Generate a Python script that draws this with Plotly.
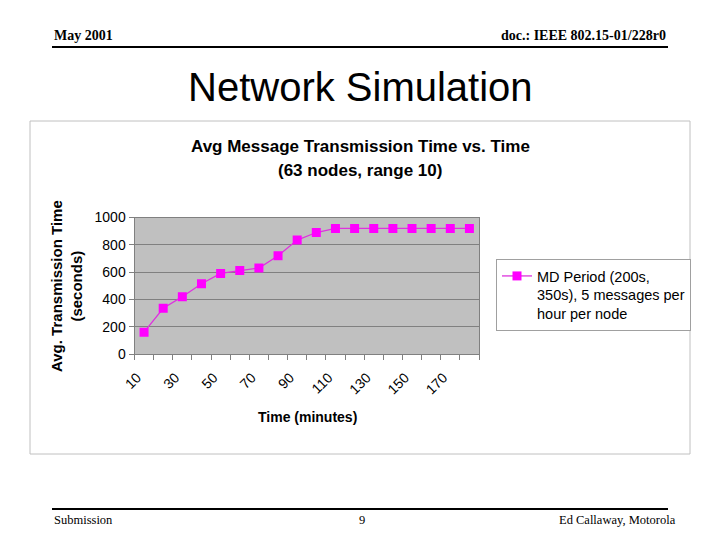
import plotly.graph_objects as go

W, H = 720, 540

minutes = [10, 20, 30, 40, 50, 60, 70, 80, 90, 100, 110, 120, 130, 140, 150, 160, 170, 180]
avg_tx_time = [160, 335, 420, 515, 590, 612, 630, 720, 835, 890, 920, 920, 920, 920, 920, 920, 920, 920]
x_tick_labels = [10, 30, 50, 70, 90, 110, 130, 150, 170]
y_tick_vals = [0, 200, 400, 600, 800, 1000]
series_name = "MD Period (200s,<br>350s), 5 messages per<br>hour per node"


def px(x):
    return x / W


def py(y):
    return 1 - y / H


fig = go.Figure()
fig.add_trace(go.Scatter(
    x=minutes, y=avg_tx_time, mode="lines+markers", name=series_name,
    line=dict(color="#DD33DD", width=1.3),
    marker=dict(symbol="square", size=9, color="#FF00FF"),
))

font_sans = "Liberation Sans, Arial, sans-serif"
font_serif = "Liberation Serif, Times New Roman, serif"

fig.update_layout(
    width=W, height=H,
    margin=dict(l=0, r=0, t=0, b=0, autoexpand=False),
    paper_bgcolor="white",
    plot_bgcolor="#C0C0C0",
    showlegend=True,
    legend=dict(
        x=px(496), y=py(259), xanchor="left", yanchor="top",
        bordercolor="#A0A0A0", borderwidth=1, bgcolor="white",
        font=dict(family=font_sans, size=14.5, color="#000"),
        valign="top",
    ),
    xaxis=dict(
        domain=[px(134.5), px(479)],
        range=[5, 185],
        tickvals=x_tick_labels,
        ticktext=[str(v) for v in x_tick_labels],
        tickangle=-45,
        ticks="",
        ticklabelstandoff=9,
        ticklabelshift=-7,
        showgrid=False,
        zeroline=False,
        automargin=False,
        showline=True, linecolor="#808080", linewidth=1, mirror=True,
        tickfont=dict(family=font_sans, size=14, color="#000"),
        minor=dict(tick0=5, dtick=10, ticks="outside", ticklen=5, tickcolor="#808080", showgrid=False),
        fixedrange=True,
    ),
    yaxis=dict(
        domain=[py(354), py(217.5)],
        range=[0, 1000],
        tickvals=y_tick_vals,
        ticks="outside", ticklen=5, tickcolor="#808080",
        showgrid=True, gridcolor="#808080", gridwidth=1,
        zeroline=False,
        automargin=False,
        showline=True, linecolor="#808080", linewidth=1, mirror=True,
        tickfont=dict(family=font_sans, size=14, color="#000"),
        fixedrange=True,
    ),
    shapes=[
        dict(type="rect", xref="paper", yref="paper", x0=px(30), x1=px(690), y0=py(454), y1=py(121),
             line=dict(color="#C0C0C0", width=1), layer="below"),
        dict(type="line", xref="paper", yref="paper", x0=px(52), x1=px(668), y0=py(47), y1=py(47),
             line=dict(color="black", width=2)),
        dict(type="line", xref="paper", yref="paper", x0=px(52), x1=px(668), y0=py(509), y1=py(509),
             line=dict(color="black", width=2)),
    ],
    annotations=[
        dict(text="<b>May 2001</b>", x=px(52), y=py(45), xref="paper", yref="paper",
             xanchor="left", yanchor="bottom", showarrow=False,
             font=dict(family=font_serif, size=14, color="black")),
        dict(text="<b>doc.: IEEE 802.15-01/228r0</b>", x=px(668), y=py(45), xref="paper", yref="paper",
             xanchor="right", yanchor="bottom", showarrow=False,
             font=dict(family=font_serif, size=14, color="black")),
        dict(text="Network Simulation", x=0.5, y=py(87), xref="paper", yref="paper",
             xanchor="center", yanchor="middle", showarrow=False,
             font=dict(family=font_sans, size=40, color="black")),
        dict(text="<b>Avg Message Transmission Time vs. Time</b>", x=0.5, y=py(146), xref="paper", yref="paper",
             xanchor="center", yanchor="middle", showarrow=False,
             font=dict(family=font_sans, size=17, color="black")),
        dict(text="<b>(63 nodes, range 10)</b>", x=0.5, y=py(170), xref="paper", yref="paper",
             xanchor="center", yanchor="middle", showarrow=False,
             font=dict(family=font_sans, size=17, color="black")),
        dict(text="<b>Avg. Transmission Time<br>(seconds)</b>", x=px(66), y=py(286), xref="paper", yref="paper",
             xanchor="center", yanchor="middle", showarrow=False, textangle=-90,
             font=dict(family=font_sans, size=15, color="black")),
        dict(text="<b>Time (minutes)</b>", x=px(307), y=py(417), xref="paper", yref="paper",
             xanchor="center", yanchor="middle", showarrow=False,
             font=dict(family=font_sans, size=14, color="black")),
        dict(text="Submission", x=px(52), y=py(511), xref="paper", yref="paper",
             xanchor="left", yanchor="top", showarrow=False,
             font=dict(family=font_serif, size=12.5, color="black")),
        dict(text="9", x=px(362), y=py(511), xref="paper", yref="paper",
             xanchor="center", yanchor="top", showarrow=False,
             font=dict(family=font_serif, size=12.5, color="black")),
        dict(text="Ed Callaway, Motorola", x=px(678), y=py(511), xref="paper", yref="paper",
             xanchor="right", yanchor="top", showarrow=False,
             font=dict(family=font_serif, size=12.5, color="black")),
    ],
)

fig.write_html("out.html", config={"displayModeBar": False},
               post_script="document.body.style.margin='0';")
